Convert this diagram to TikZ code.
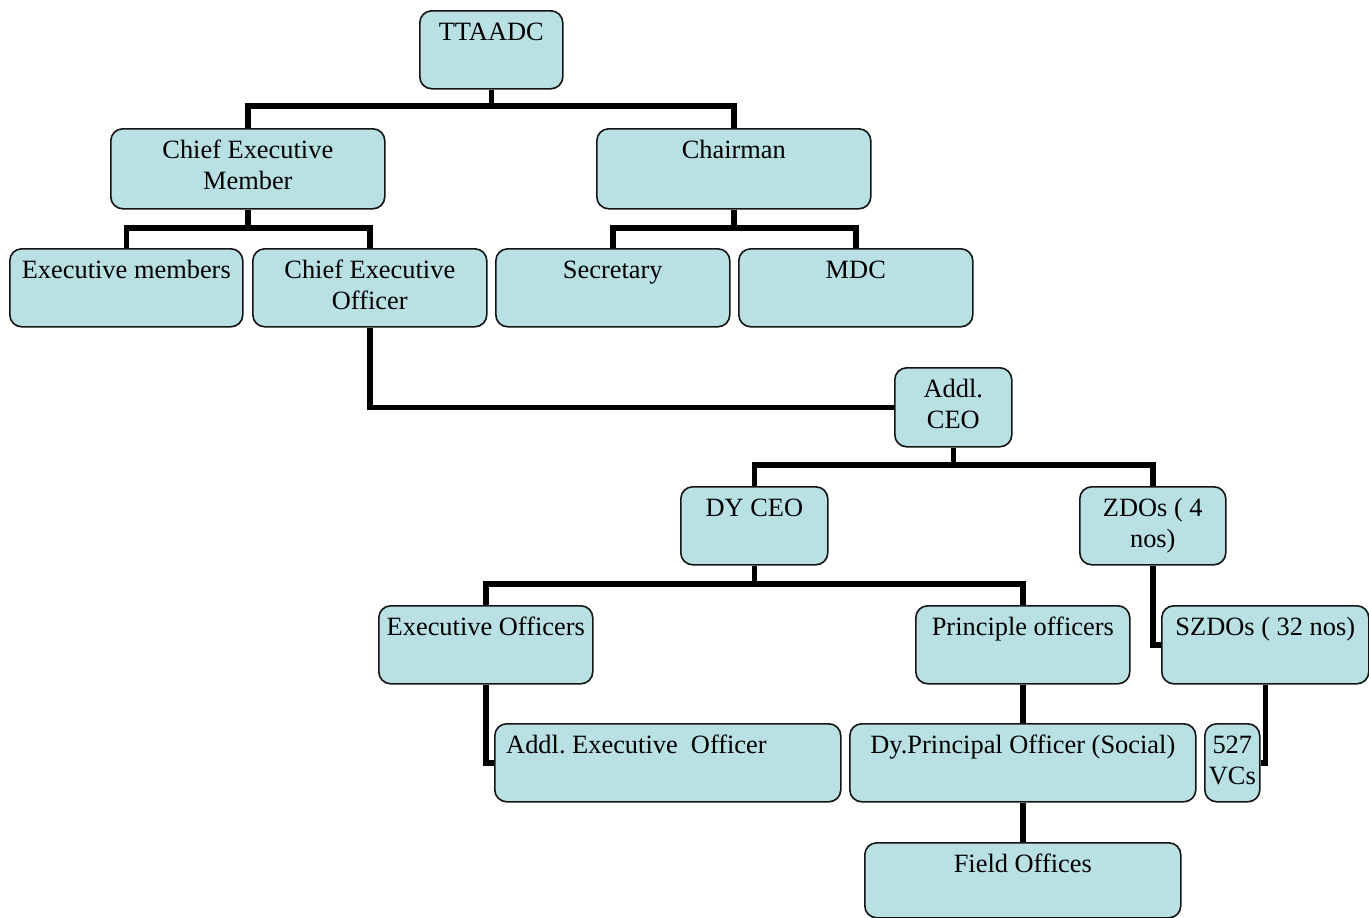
\documentclass[tikz,border=0pt]{standalone}
\usepackage{fontspec}
\setmainfont{Liberation Serif}
\usetikzlibrary{backgrounds}
\definecolor{boxfill}{RGB}{185,224,227}
\definecolor{boxline}{RGB}{20,20,20}
\frenchspacing
\tikzset{
  box/.style={draw=boxline, line width=1.6pt, fill=boxfill, rounded corners=12pt, inner sep=0pt, anchor=north west},
  lbl/.style={inner sep=0pt, align=center, font=\fontsize{26.4}{31}\selectfont},
  conn/.style={line width=5.5pt, line join=miter, draw=black}
}
\newcommand{\bx}[6]{%
  \node[box, minimum width={#4-#2}, minimum height={#5-#3}] (#1) at (#2,#3) {};
  \node[lbl, anchor=north] (#1-t) at ([yshift=-8.3pt]#1.north) {\strut #6};
}
\begin{document}
\begin{tikzpicture}[x=1pt,y=-1pt]
\useasboundingbox (0,0) rectangle (1369,918);
\bx{ttaadc}{419}{10}{562}{88}{TTAADC}
\bx{cem}{110}{128}{384}{208}{Chief Executive\\Member}
\bx{chair}{596}{128}{870}{208}{Chairman}
\bx{exm}{9}{248}{242}{326}{Executive members}
\bx{ceo}{252}{248}{486}{326}{Chief Executive\\Officer}
\bx{sec}{495}{248}{729}{326}{Secretary}
\bx{mdc}{738}{248}{972}{326}{MDC}
\bx{addl}{894}{367}{1011}{446}{Addl.\\CEO}
\bx{dyceo}{680}{486}{827}{564}{DY CEO}
\bx{zdo}{1079}{486}{1225}{564}{ZDOs ( 4\\nos)}
\bx{eo}{378}{605}{592}{683}{Executive Officers}
\bx{po}{915}{605}{1129}{683}{Principle officers}
\bx{szdo}{1161}{605}{1368}{683}{SZDOs ( 32 nos)}
\node[box, minimum width=346, minimum height=78] (aeo) at (494,723) {};
\node[lbl, anchor=north west] (aeo-t) at ([xshift=12pt,yshift=-8.3pt]aeo.north west) {\strut Addl.\ Executive\ \ Officer};
\bx{dpo}{849}{723}{1195}{801}{Dy.Principal Officer (Social)}
\bx{vcs}{1204}{723}{1259}{801}{527\\VCs}
\bx{fo}{864}{842}{1180}{917}{Field Offices}
\begin{pgfonlayer}{background}
\draw[conn] (ttaadc.south) -- (ttaadc.south |- 0,106);
\draw[conn] (cem.north) -- (cem.north |- 0,106) -| (chair.north);
\draw[conn] (cem.south) -- (cem.south |- 0,228);
\draw[conn] (exm.north) -- (exm.north |- 0,228) -| (ceo.north);
\draw[conn] (chair.south) -- (chair.south |- 0,228);
\draw[conn] (sec.north) -- (sec.north |- 0,228) -| (mdc.north);
\draw[conn] (ceo.south) |- (addl.west);
\draw[conn] (addl.south) -- (addl.south |- 0,465);
\draw[conn] (dyceo.north) -- (dyceo.north |- 0,465) -| (zdo.north);
\draw[conn] (dyceo.south) -- (dyceo.south |- 0,584);
\draw[conn] (eo.north) -- (eo.north |- 0,584) -| (po.north);
\draw[conn] (zdo.south) |- (szdo.west);
\draw[conn] (eo.south) |- (aeo.west);
\draw[conn] (po.south) -- (dpo.north);
\draw[conn] (dpo.south) -- (fo.north);
\draw[conn] (szdo.south) |- (vcs.east);
\end{pgfonlayer}
\end{tikzpicture}
\end{document}
